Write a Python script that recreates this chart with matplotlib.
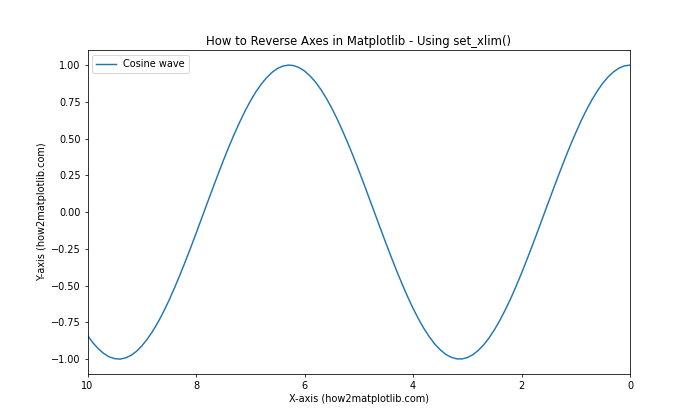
import matplotlib
matplotlib.use('Agg')
import matplotlib.pyplot as plt

# x sampled every 0.1 from 0 to 10
x_values = [round(0.1 * i, 1) for i in range(101)]
# y values at those x positions
y_values = [1.000, 0.995, 0.980, 0.955, 0.921, 0.878, 0.825, 0.765, 0.697, 0.622,
            0.540, 0.454, 0.362, 0.267, 0.170, 0.071, -0.029, -0.129, -0.227, -0.323,
            -0.416, -0.505, -0.589, -0.666, -0.737, -0.801, -0.857, -0.904, -0.942, -0.971,
            -0.990, -0.999, -0.998, -0.987, -0.967, -0.936, -0.897, -0.848, -0.791, -0.726,
            -0.654, -0.575, -0.490, -0.401, -0.307, -0.211, -0.112, -0.012, 0.087, 0.187,
            0.284, 0.378, 0.469, 0.554, 0.635, 0.709, 0.776, 0.835, 0.886, 0.927,
            0.960, 0.983, 0.997, 1.000, 0.993, 0.977, 0.950, 0.914, 0.869, 0.816,
            0.754, 0.685, 0.608, 0.526, 0.439, 0.347, 0.251, 0.153, 0.054, -0.046,
            -0.146, -0.244, -0.339, -0.431, -0.519, -0.602, -0.679, -0.749, -0.811, -0.865,
            -0.911, -0.948, -0.975, -0.992, -1.000, -0.997, -0.985, -0.962, -0.930, -0.889,
            -0.839]

fig, ax = plt.subplots(figsize=(10, 6), dpi=70)

ax.plot(x_values, y_values, label='Cosine wave')
ax.set_xlim(10, 0)

ax.set_title('How to Reverse Axes in Matplotlib - Using set_xlim()')
ax.set_xlabel('X-axis (how2matplotlib.com)')
ax.set_ylabel('Y-axis (how2matplotlib.com)')
ax.legend(loc='upper left')

plt.savefig('out.png')
